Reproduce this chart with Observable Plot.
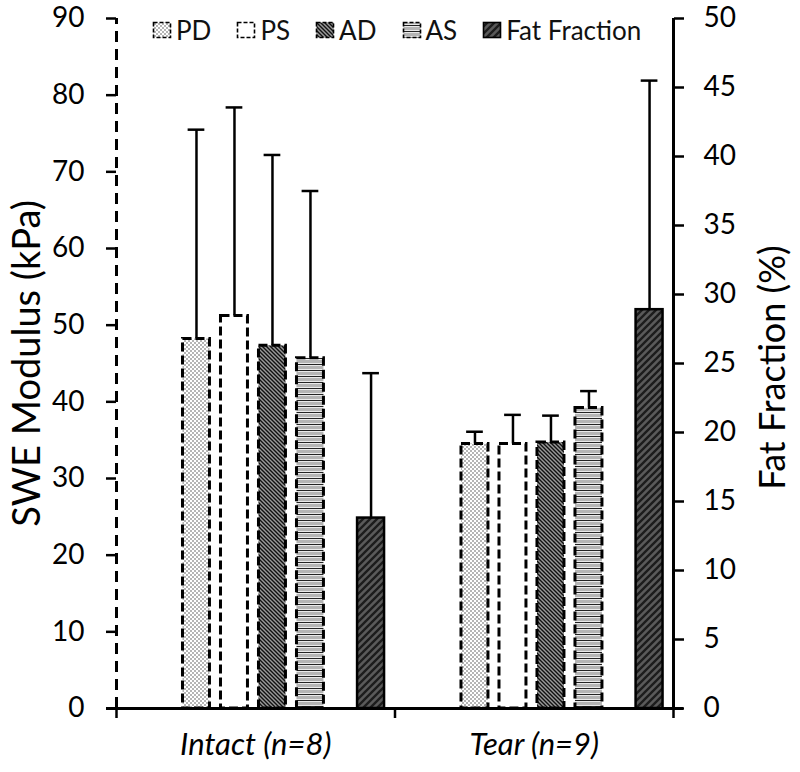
<!DOCTYPE html>
<html><head><meta charset="utf-8">
<script src="https://cdn.jsdelivr.net/npm/d3@7"></script>
<script src="https://cdn.jsdelivr.net/npm/@observablehq/plot@0.6"></script>
<style>
body{margin:0;background:#fff;font-family:Lato,sans-serif;}
#wrap{position:relative;width:800px;height:772px;}
#legend{position:absolute;top:14px;left:152px;display:flex;gap:25px;align-items:center;font-size:26px;color:#111;font-family:Lato,sans-serif;}
.item{display:flex;align-items:center;gap:4px;}
.item svg{display:block;}
</style></head><body><div id="wrap"><div id="chart"></div><div id="legend"></div></div>
<script>
// ---- data ----
const groups = ["Intact (n=8)", "Tear (n=9)"];
const sweSeries = ["PD", "PS", "AD", "AS"];
const fatSeries = "Fat Fraction";
const sweMeanIntact = [48.2, 51.2, 47.3, 45.7];
const sweSdIntact   = [27.3, 27.2, 24.9, 21.8];
const sweMeanTear   = [34.5, 34.5, 34.7, 39.2];
const sweSdTear     = [1.6, 3.8, 3.5, 2.2];
const fatMean = [13.8, 28.9];
const fatSd   = [10.5, 16.6];
const sweTicks = [0, 10, 20, 30, 40, 50, 60, 70, 80, 90];
const fatTicks = [0, 5, 10, 15, 20, 25, 30, 35, 40, 45, 50];

// ---- layout (secondary axis link and slot positions) ----
const K = 90 / 50;               // fat % -> SWE axis units
const GROUP = 7.33;              // slots per category
const OFFSET = {PD: 2.105, PS: 3.105, AD: 4.105, AS: 5.105, "Fat Fraction": 6.7};
const HALF = 0.355, CAP = 0.22;
const XMAX = GROUP * groups.length;

const style = {
  PD: {fill: "url(#pat-pd)", dash: "9,4"},
  PS: {fill: "white", dash: "9,4"},
  AD: {fill: "url(#pat-ad)", dash: "9,4"},
  AS: {fill: "url(#pat-as)", dash: "9,4"},
  "Fat Fraction": {fill: "url(#pat-fat)", dash: null}
};

const sweMeans = [sweMeanIntact, sweMeanTear];
const sweSds = [sweSdIntact, sweSdTear];
const rows = [];
groups.forEach((g, gi) => {
  sweSeries.forEach((s, si) => {
    rows.push({group: g, series: s, x: gi * GROUP + OFFSET[s], y: sweMeans[gi][si], top: sweMeans[gi][si] + sweSds[gi][si]});
  });
  rows.push({group: g, series: fatSeries, x: gi * GROUP + OFFSET[fatSeries], y: fatMean[gi] * K, top: (fatMean[gi] + fatSd[gi]) * K});
});

function defsMark() {
  const defs = d3.create("svg:defs");
  const pd = defs.append("pattern").attr("id", "pat-pd").attr("patternUnits", "userSpaceOnUse").attr("width", 4).attr("height", 4);
  pd.append("rect").attr("width", 4).attr("height", 4).attr("fill", "white");
  pd.append("circle").attr("cx", 1).attr("cy", 1).attr("r", 0.7).attr("fill", "#333");
  pd.append("circle").attr("cx", 3).attr("cy", 3).attr("r", 0.7).attr("fill", "#333");
  const ad = defs.append("pattern").attr("id", "pat-ad").attr("patternUnits", "userSpaceOnUse").attr("width", 4).attr("height", 4);
  ad.append("rect").attr("width", 4).attr("height", 4).attr("fill", "#9a9a9a");
  ad.append("path").attr("d", "M0,0L4,4M-1,3L1,5M3,-1L5,1").attr("stroke", "#111").attr("stroke-width", 1.4);
  const as = defs.append("pattern").attr("id", "pat-as").attr("patternUnits", "userSpaceOnUse").attr("width", 6).attr("height", 6);
  as.append("rect").attr("width", 6).attr("height", 6).attr("fill", "white");
  as.append("rect").attr("y", 0).attr("width", 6).attr("height", 3).attr("fill", "#b4b4b4");
  as.append("path").attr("d", "M0,4.5H6").attr("stroke", "#222").attr("stroke-width", 1.2);
  const fat = defs.append("pattern").attr("id", "pat-fat").attr("patternUnits", "userSpaceOnUse").attr("width", 7).attr("height", 7);
  fat.append("rect").attr("width", 7).attr("height", 7).attr("fill", "#5a5a5a");
  fat.append("path").attr("d", "M0,7L7,0M-2,2L2,-2M5,9L9,5").attr("stroke", "#1c1c1c").attr("stroke-width", 2.4);
  return defs.node();
}

const allSeries = [...sweSeries, fatSeries];

const chart = Plot.plot({
  width: 800,
  height: 772,
  marginTop: 18,
  marginBottom: 64,
  marginLeft: 116,
  marginRight: 127,
  style: {fontFamily: "Lato, sans-serif", fontSize: "28px", color: "black", background: "white", overflow: "visible"},
  x: {domain: [0, XMAX], axis: null},
  y: {domain: [0, 90], axis: null},
  marks: [
    defsMark,
    ...allSeries.map(s => Plot.rect(rows.filter(d => d.series === s), {
      x1: d => d.x - HALF, x2: d => d.x + HALF, y1: () => 0, y2: "y",
      fill: style[s].fill, stroke: "black", strokeWidth: s === fatSeries ? 2.5 : 3,
      strokeDasharray: style[s].dash
    })),
    Plot.ruleX(rows, {x: "x", y1: "y", y2: "top", stroke: "black", strokeWidth: 2.5}),
    Plot.ruleY(rows, {y: "top", x1: d => d.x - CAP, x2: d => d.x + CAP, stroke: "black", strokeWidth: 2.5}),
    Plot.ruleX([0], {y1: () => 0, y2: () => 90, stroke: "black", strokeWidth: 3, strokeDasharray: "11,7"}),
    Plot.ruleX([XMAX], {y1: () => 0, y2: () => 90, stroke: "black", strokeWidth: 3}),
    Plot.ruleY([0], {insetLeft: -10, insetRight: -10, stroke: "black", strokeWidth: 3}),
    Plot.axisY({anchor: "left", ticks: sweTicks, tickSize: 10, tickPadding: 22, strokeWidth: 2.5, label: null, fontSize: 28}),
    Plot.axisY({anchor: "right", ticks: fatTicks.map(v => v * K), tickFormat: v => String(Math.round(v / K)), tickSize: 10, tickPadding: 20, strokeWidth: 2.5, label: null, fontSize: 28}),
    Plot.axisX({ticks: [0, GROUP, XMAX], tickSize: 10, tickFormat: () => "", strokeWidth: 2.5, label: null}),
    Plot.axisX({ticks: groups.map((g, i) => i * GROUP + GROUP / 2), tickSize: 0, tickPadding: 24,
      tickFormat: v => groups[Math.floor(v / GROUP)], fontStyle: "italic", fontSize: 31, label: null}),
    Plot.text(["SWE Modulus (kPa)"], {frameAnchor: "left", textAnchor: "middle", dx: -89, rotate: -90, fontSize: 38, fill: "black"}),
    Plot.text(["Fat Fraction (%)"], {frameAnchor: "right", textAnchor: "middle", dx: 100, dy: 4, rotate: -90, fontSize: 36, fill: "black"})
  ]
});
document.getElementById("chart").append(chart);

// legend
const legend = d3.select("#legend");
allSeries.forEach(s => {
  const item = legend.append("div").attr("class", "item");
  const sw = item.append("svg").attr("width", 20).attr("height", 18);
  sw.append("rect").attr("x", 1.5).attr("y", 1.5).attr("width", 17).attr("height", 15)
    .attr("fill", style[s].fill).attr("stroke", "black").attr("stroke-width", 1.6)
    .attr("stroke-dasharray", style[s].dash ? "4,2" : null);
  item.append("span").text(s);
});
</script>
</body></html>
